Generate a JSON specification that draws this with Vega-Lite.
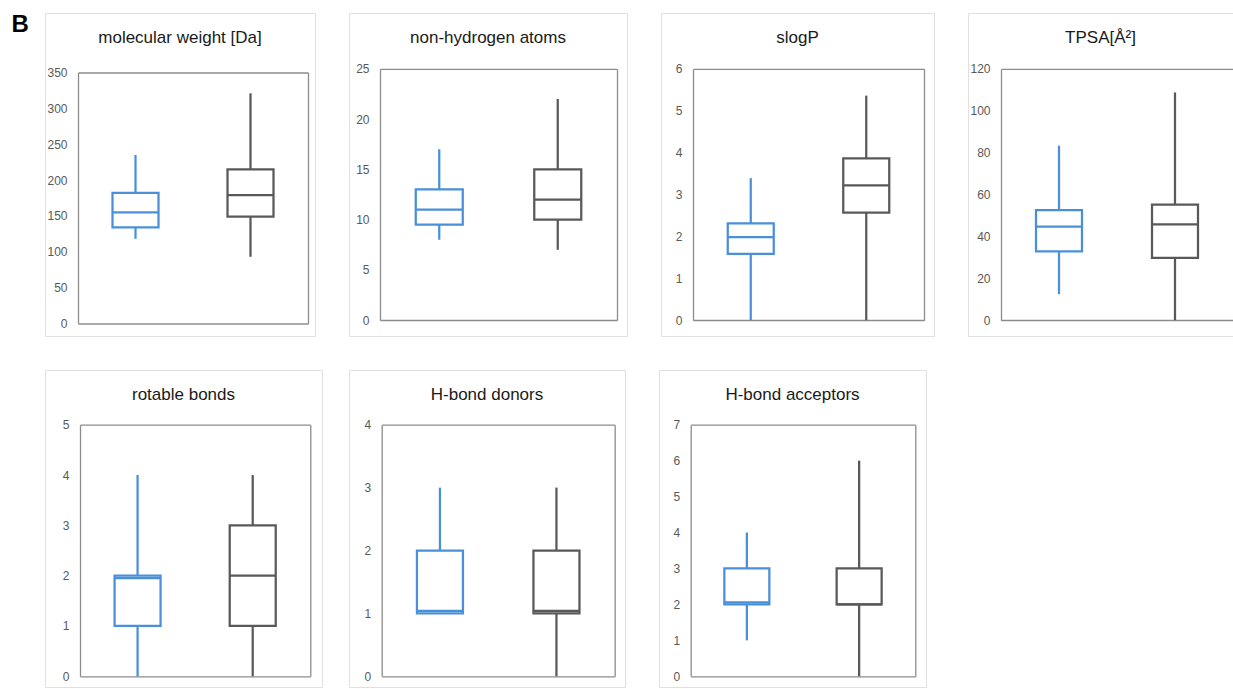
{
  "$schema": "https://vega.github.io/schema/vega-lite/v6.json",
  "padding": {"left": 11, "top": 12, "right": 0, "bottom": 0},
  "background": "white",
  "title": {
    "text": "B", "anchor": "start", "frame": "bounds", "orient": "top",
    "offset": 0, "baseline": "top", "dx": -33, "dy": 24.5,
    "fontSize": 24, "fontWeight": "bold", "font": "Liberation Sans", "color": "#000000"
  },
  "datasets": {
    "stats": [
      {"var": "mw", "set": "set A", "lo": 118, "q1": 134, "med": 155, "q3": 182, "hi": 235},
      {"var": "mw", "set": "set B", "lo": 93, "q1": 149, "med": 179, "q3": 215, "hi": 321},
      {"var": "hac", "set": "set A", "lo": 8, "q1": 9.5, "med": 11, "q3": 13, "hi": 17},
      {"var": "hac", "set": "set B", "lo": 7, "q1": 10, "med": 12, "q3": 15, "hi": 22},
      {"var": "slogp", "set": "set A", "lo": 0, "q1": 1.58, "med": 1.98, "q3": 2.31, "hi": 3.39},
      {"var": "slogp", "set": "set B", "lo": 0, "q1": 2.57, "med": 3.22, "q3": 3.86, "hi": 5.36},
      {"var": "tpsa", "set": "set A", "lo": 12.4, "q1": 32.8, "med": 44.7, "q3": 52.6, "hi": 83.3},
      {"var": "tpsa", "set": "set B", "lo": 0, "q1": 29.8, "med": 45.7, "q3": 55.2, "hi": 108.7},
      {"var": "rotb", "set": "set A", "lo": 0, "q1": 1, "med": 1.95, "q3": 2, "hi": 4},
      {"var": "rotb", "set": "set B", "lo": 0, "q1": 1, "med": 2, "q3": 3, "hi": 4},
      {"var": "hbd", "set": "set A", "lo": 1, "q1": 1, "med": 1.04, "q3": 2, "hi": 3},
      {"var": "hbd", "set": "set B", "lo": 0, "q1": 1, "med": 1.04, "q3": 2, "hi": 3},
      {"var": "hba", "set": "set A", "lo": 1, "q1": 2, "med": 2.06, "q3": 3, "hi": 4},
      {"var": "hba", "set": "set B", "lo": 0, "q1": 2, "med": 2, "q3": 3, "hi": 6}
    ]
  },
  "vconcat": [
    {
      "hconcat": [
        {
          "width": 270, "height": 323,
          "title": "molecular weight [Da]",
          "data": {"name": "stats"},
          "transform": [{"filter": "datum.var === 'mw'"}],
          "layer": [
            {
              "mark": {"type": "rule", "strokeWidth": 2.25},
              "encoding": {
                "x": {"field": "set", "type": "nominal", "scale": {"type": "point", "padding": 0.5, "range": [33, 263]}, "axis": {"orient": "bottom", "offset": -12.5, "labels": false}},
                "y": {"field": "lo", "type": "quantitative", "scale": {"domain": [0, 350], "range": [310.5, 59.5], "nice": false}, "axis": {"orient": "left", "offset": -33, "values": [0, 50, 100, 150, 200, 250, 300, 350]}},
                "y2": {"field": "hi"},
                "color": {"field": "set", "type": "nominal", "scale": {"domain": ["set A", "set B"], "range": ["#4a90d9", "#595959"]}, "legend": null}
              }
            },
            {
              "mark": {"type": "bar", "fill": "white", "strokeWidth": 2.25, "size": 46},
              "encoding": {
                "x": {"field": "set", "type": "nominal", "scale": {"type": "point", "padding": 0.5, "range": [33, 263]}, "axis": {"orient": "top", "offset": -59.5, "labels": false}},
                "y": {"field": "q1", "type": "quantitative", "scale": {"domain": [0, 350], "range": [310.5, 59.5], "nice": false}, "axis": {"orient": "right", "offset": -7, "labels": false}},
                "y2": {"field": "q3"},
                "stroke": {"field": "set", "type": "nominal", "scale": {"domain": ["set A", "set B"], "range": ["#4a90d9", "#595959"]}, "legend": null}
              }
            },
            {
              "mark": {"type": "tick", "thickness": 2.25, "size": 46, "opacity": 1},
              "encoding": {
                "x": {"field": "set", "type": "nominal", "axis": null},
                "y": {"field": "med", "type": "quantitative", "axis": null},
                "color": {"field": "set", "type": "nominal", "legend": null}
              }
            }
          ],
          "resolve": {"axis": {"x": "independent", "y": "independent"}}
        },
        {
          "width": 278, "height": 323,
          "title": "non-hydrogen atoms",
          "data": {"name": "stats"},
          "transform": [{"filter": "datum.var === 'hac'"}],
          "layer": [
            {
              "mark": {"type": "rule", "strokeWidth": 2.25},
              "encoding": {
                "x": {"field": "set", "type": "nominal", "scale": {"type": "point", "padding": 0.5, "range": [31, 268]}, "axis": {"orient": "bottom", "offset": -16, "labels": false}},
                "y": {"field": "lo", "type": "quantitative", "scale": {"domain": [0, 25], "range": [307.2, 55.8], "nice": false}, "axis": {"orient": "left", "offset": -31, "values": [0, 5, 10, 15, 20, 25]}},
                "y2": {"field": "hi"},
                "color": {"field": "set", "type": "nominal", "scale": {"domain": ["set A", "set B"], "range": ["#4a90d9", "#595959"]}, "legend": null}
              }
            },
            {
              "mark": {"type": "bar", "fill": "white", "strokeWidth": 2.25, "size": 47},
              "encoding": {
                "x": {"field": "set", "type": "nominal", "scale": {"type": "point", "padding": 0.5, "range": [31, 268]}, "axis": {"orient": "top", "offset": -55.8, "labels": false}},
                "y": {"field": "q1", "type": "quantitative", "scale": {"domain": [0, 25], "range": [307.2, 55.8], "nice": false}, "axis": {"orient": "right", "offset": -10, "labels": false}},
                "y2": {"field": "q3"},
                "stroke": {"field": "set", "type": "nominal", "scale": {"domain": ["set A", "set B"], "range": ["#4a90d9", "#595959"]}, "legend": null}
              }
            },
            {
              "mark": {"type": "tick", "thickness": 2.25, "size": 47, "opacity": 1},
              "encoding": {
                "x": {"field": "set", "type": "nominal", "axis": null},
                "y": {"field": "med", "type": "quantitative", "axis": null},
                "color": {"field": "set", "type": "nominal", "legend": null}
              }
            }
          ],
          "resolve": {"axis": {"x": "independent", "y": "independent"}}
        },
        {
          "width": 273, "height": 323,
          "title": "slogP",
          "data": {"name": "stats"},
          "transform": [{"filter": "datum.var === 'slogp'"}],
          "layer": [
            {
              "mark": {"type": "rule", "strokeWidth": 2.25},
              "encoding": {
                "x": {"field": "set", "type": "nominal", "scale": {"type": "point", "padding": 0.5, "range": [32, 263]}, "axis": {"orient": "bottom", "offset": -16, "labels": false}},
                "y": {"field": "lo", "type": "quantitative", "scale": {"domain": [0, 6], "range": [307.2, 55.8], "nice": false}, "axis": {"orient": "left", "offset": -32, "values": [0, 1, 2, 3, 4, 5, 6]}},
                "y2": {"field": "hi"},
                "color": {"field": "set", "type": "nominal", "scale": {"domain": ["set A", "set B"], "range": ["#4a90d9", "#595959"]}, "legend": null}
              }
            },
            {
              "mark": {"type": "bar", "fill": "white", "strokeWidth": 2.25, "size": 46},
              "encoding": {
                "x": {"field": "set", "type": "nominal", "scale": {"type": "point", "padding": 0.5, "range": [32, 263]}, "axis": {"orient": "top", "offset": -55.8, "labels": false}},
                "y": {"field": "q1", "type": "quantitative", "scale": {"domain": [0, 6], "range": [307.2, 55.8], "nice": false}, "axis": {"orient": "right", "offset": -10, "labels": false}},
                "y2": {"field": "q3"},
                "stroke": {"field": "set", "type": "nominal", "scale": {"domain": ["set A", "set B"], "range": ["#4a90d9", "#595959"]}, "legend": null}
              }
            },
            {
              "mark": {"type": "tick", "thickness": 2.25, "size": 46, "opacity": 1},
              "encoding": {
                "x": {"field": "set", "type": "nominal", "axis": null},
                "y": {"field": "med", "type": "quantitative", "axis": null},
                "color": {"field": "set", "type": "nominal", "legend": null}
              }
            }
          ],
          "resolve": {"axis": {"x": "independent", "y": "independent"}}
        },
        {
          "width": 265, "height": 323,
          "title": "TPSA[Å²]",
          "data": {"name": "stats"},
          "transform": [{"filter": "datum.var === 'tpsa'"}],
          "layer": [
            {
              "mark": {"type": "rule", "strokeWidth": 2.25},
              "encoding": {
                "x": {"field": "set", "type": "nominal", "scale": {"type": "point", "padding": 0.5, "range": [33, 265]}, "axis": {"orient": "bottom", "offset": -16, "labels": false}},
                "y": {"field": "lo", "type": "quantitative", "scale": {"domain": [0, 120], "range": [307.2, 55.8], "nice": false}, "axis": {"orient": "left", "offset": -33, "values": [0, 20, 40, 60, 80, 100, 120]}},
                "y2": {"field": "hi"},
                "color": {"field": "set", "type": "nominal", "scale": {"domain": ["set A", "set B"], "range": ["#4a90d9", "#595959"]}, "legend": null}
              }
            },
            {
              "mark": {"type": "bar", "fill": "white", "strokeWidth": 2.25, "size": 46},
              "encoding": {
                "x": {"field": "set", "type": "nominal", "scale": {"type": "point", "padding": 0.5, "range": [33, 265]}, "axis": {"orient": "top", "offset": -55.8, "labels": false}},
                "y": {"field": "q1", "type": "quantitative", "scale": {"domain": [0, 120], "range": [307.2, 55.8], "nice": false}, "axis": null},
                "y2": {"field": "q3"},
                "stroke": {"field": "set", "type": "nominal", "scale": {"domain": ["set A", "set B"], "range": ["#4a90d9", "#595959"]}, "legend": null}
              }
            },
            {
              "mark": {"type": "tick", "thickness": 2.25, "size": 46, "opacity": 1},
              "encoding": {
                "x": {"field": "set", "type": "nominal", "axis": null},
                "y": {"field": "med", "type": "quantitative", "axis": null},
                "color": {"field": "set", "type": "nominal", "legend": null}
              }
            }
          ],
          "resolve": {"axis": {"x": "independent", "y": "independent"}}
        }
      ],
      "spacing": 32
    },
    {
      "hconcat": [
        {
          "hconcat": [
            {
              "width": 277, "height": 317,
              "title": "rotable bonds",
              "data": {"name": "stats"},
              "transform": [{"filter": "datum.var === 'rotb'"}],
              "layer": [
                {
                  "mark": {"type": "rule", "strokeWidth": 2.25},
                  "encoding": {
                    "x": {"field": "set", "type": "nominal", "scale": {"type": "point", "padding": 0.5, "range": [35, 265.3]}, "axis": {"orient": "bottom", "offset": -10.7, "labels": false}},
                    "y": {"field": "lo", "type": "quantitative", "scale": {"domain": [0, 5], "range": [306.3, 54.7], "nice": false}, "axis": {"orient": "left", "offset": -35, "values": [0, 1, 2, 3, 4, 5]}},
                    "y2": {"field": "hi"},
                    "color": {"field": "set", "type": "nominal", "scale": {"domain": ["set A", "set B"], "range": ["#4a90d9", "#595959"]}, "legend": null}
                  }
                },
                {
                  "mark": {"type": "bar", "fill": "white", "strokeWidth": 2.25, "size": 46},
                  "encoding": {
                    "x": {"field": "set", "type": "nominal", "scale": {"type": "point", "padding": 0.5, "range": [35, 265.3]}, "axis": {"orient": "top", "offset": -54.7, "labels": false}},
                    "y": {"field": "q1", "type": "quantitative", "scale": {"domain": [0, 5], "range": [306.3, 54.7], "nice": false}, "axis": {"orient": "right", "offset": -11.7, "labels": false}},
                    "y2": {"field": "q3"},
                    "stroke": {"field": "set", "type": "nominal", "scale": {"domain": ["set A", "set B"], "range": ["#4a90d9", "#595959"]}, "legend": null}
                  }
                },
                {
                  "mark": {"type": "tick", "thickness": 2.25, "size": 46, "opacity": 1},
                  "encoding": {
                    "x": {"field": "set", "type": "nominal", "axis": null},
                    "y": {"field": "med", "type": "quantitative", "axis": null},
                    "color": {"field": "set", "type": "nominal", "legend": null}
                  }
                }
              ],
              "resolve": {"axis": {"x": "independent", "y": "independent"}}
            },
            {
              "width": 276, "height": 317,
              "title": "H-bond donors",
              "data": {"name": "stats"},
              "transform": [{"filter": "datum.var === 'hbd'"}],
              "layer": [
                {
                  "mark": {"type": "rule", "strokeWidth": 2.25},
                  "encoding": {
                    "x": {"field": "set", "type": "nominal", "scale": {"type": "point", "padding": 0.5, "range": [32.7, 265.7]}, "axis": {"orient": "bottom", "offset": -10.7, "labels": false}},
                    "y": {"field": "lo", "type": "quantitative", "scale": {"domain": [0, 4], "range": [306.3, 54.7], "nice": false}, "axis": {"orient": "left", "offset": -32.7, "values": [0, 1, 2, 3, 4]}},
                    "y2": {"field": "hi"},
                    "color": {"field": "set", "type": "nominal", "scale": {"domain": ["set A", "set B"], "range": ["#4a90d9", "#595959"]}, "legend": null}
                  }
                },
                {
                  "mark": {"type": "bar", "fill": "white", "strokeWidth": 2.25, "size": 46},
                  "encoding": {
                    "x": {"field": "set", "type": "nominal", "scale": {"type": "point", "padding": 0.5, "range": [32.7, 265.7]}, "axis": {"orient": "top", "offset": -54.7, "labels": false}},
                    "y": {"field": "q1", "type": "quantitative", "scale": {"domain": [0, 4], "range": [306.3, 54.7], "nice": false}, "axis": {"orient": "right", "offset": -10.3, "labels": false}},
                    "y2": {"field": "q3"},
                    "stroke": {"field": "set", "type": "nominal", "scale": {"domain": ["set A", "set B"], "range": ["#4a90d9", "#595959"]}, "legend": null}
                  }
                },
                {
                  "mark": {"type": "tick", "thickness": 2.25, "size": 46, "opacity": 1},
                  "encoding": {
                    "x": {"field": "set", "type": "nominal", "axis": null},
                    "y": {"field": "med", "type": "quantitative", "axis": null},
                    "color": {"field": "set", "type": "nominal", "legend": null}
                  }
                }
              ],
              "resolve": {"axis": {"x": "independent", "y": "independent"}}
            }
          ],
          "spacing": 25
        },
        {
          "width": 267, "height": 317,
          "title": "H-bond acceptors",
          "data": {"name": "stats"},
          "transform": [{"filter": "datum.var === 'hba'"}],
          "layer": [
            {
              "mark": {"type": "rule", "strokeWidth": 2.25},
              "encoding": {
                "x": {"field": "set", "type": "nominal", "scale": {"type": "point", "padding": 0.5, "range": [31.7, 256.3]}, "axis": {"orient": "bottom", "offset": -10.7, "labels": false}},
                "y": {"field": "lo", "type": "quantitative", "scale": {"domain": [0, 7], "range": [306.3, 54.7], "nice": false}, "axis": {"orient": "left", "offset": -31.7, "values": [0, 1, 2, 3, 4, 5, 6, 7]}},
                "y2": {"field": "hi"},
                "color": {"field": "set", "type": "nominal", "scale": {"domain": ["set A", "set B"], "range": ["#4a90d9", "#595959"]}, "legend": null}
              }
            },
            {
              "mark": {"type": "bar", "fill": "white", "strokeWidth": 2.25, "size": 45},
              "encoding": {
                "x": {"field": "set", "type": "nominal", "scale": {"type": "point", "padding": 0.5, "range": [31.7, 256.3]}, "axis": {"orient": "top", "offset": -54.7, "labels": false}},
                "y": {"field": "q1", "type": "quantitative", "scale": {"domain": [0, 7], "range": [306.3, 54.7], "nice": false}, "axis": {"orient": "right", "offset": -10.7, "labels": false}},
                "y2": {"field": "q3"},
                "stroke": {"field": "set", "type": "nominal", "scale": {"domain": ["set A", "set B"], "range": ["#4a90d9", "#595959"]}, "legend": null}
              }
            },
            {
              "mark": {"type": "tick", "thickness": 2.25, "size": 45, "opacity": 1},
              "encoding": {
                "x": {"field": "set", "type": "nominal", "axis": null},
                "y": {"field": "med", "type": "quantitative", "axis": null},
                "color": {"field": "set", "type": "nominal", "legend": null}
              }
            }
          ],
          "resolve": {"axis": {"x": "independent", "y": "independent"}}
        }
      ],
      "spacing": 32
    }
  ],
  "spacing": 32,
  "config": {
    "view": {"stroke": "#e0e0e0", "strokeWidth": 1, "fill": "white"},
    "title": {"font": "Liberation Sans", "fontSize": 17, "fontWeight": "normal", "color": "#1a1a1a", "offset": -34, "baseline": "middle", "anchor": "middle"},
    "axis": {
      "domainColor": "#8c8c8c", "domainWidth": 1.3, "ticks": false, "grid": false,
      "labelFont": "Liberation Sans", "labelFontSize": 12, "labelColor": "#595959",
      "labelPadding": 11, "labelOverlap": false, "labelBound": false, "labelFlush": false, "title": null
    }
  }
}
